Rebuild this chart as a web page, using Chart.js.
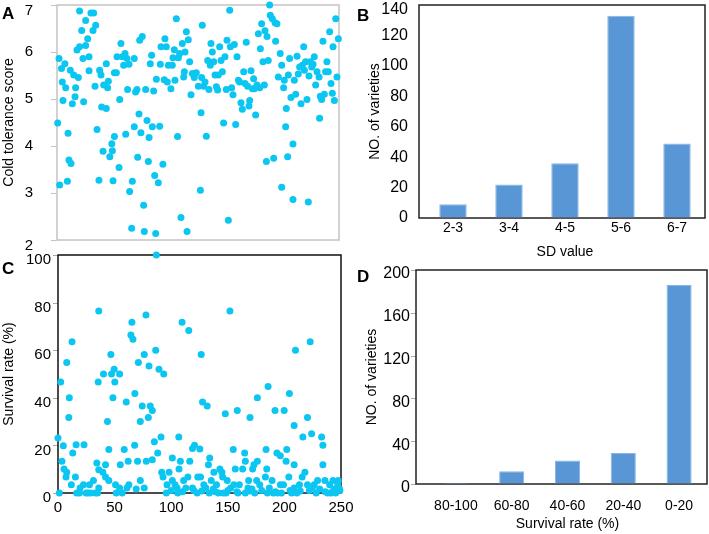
<!DOCTYPE html>
<html><head><meta charset="utf-8">
<script src="https://cdn.jsdelivr.net/npm/chart.js@4/dist/chart.umd.min.js"></script>
<style>
body{margin:0;background:#fff;width:709px;height:534px;position:relative;overflow:hidden;font-family:"Liberation Sans",Arial,sans-serif}
canvas{position:absolute}
.lbl{position:absolute;font-weight:bold;font-size:17px;line-height:17px;color:#000;font-family:"Liberation Sans",Arial,sans-serif}
</style></head><body>
<canvas id="cA" width="350" height="250" style="left:0;top:0"></canvas>
<canvas id="cB" width="349" height="265" style="left:360px;top:0"></canvas>
<canvas id="cC" width="360" height="289" style="left:0;top:245px"></canvas>
<canvas id="cD" width="349" height="272" style="left:360px;top:262px"></canvas>
<div class="lbl" style="left:2px;top:5px">A</div>
<div class="lbl" style="left:357px;top:7px">B</div>
<div class="lbl" style="left:2px;top:260px">C</div>
<div class="lbl" style="left:357px;top:268px">D</div>
<script>
// Panel A: cold tolerance score per variety
const aIndex = [0.6,2.4,1.8,4,7,4.7,7.7,5.3,9.8,9.2,
10.6,12.4,11.8,13.6,14.8,16.5,16,18.9,17.7,20,
20,21.9,23,23.6,25.4,25.4,27.2,28.4,28.4,30.1,
32.5,31.9,34.3,33.7,35.5,37.2,37.8,39,39.6,40.8,
41.4,43.7,43.7,45.5,44.9,46.8,48.6,49.1,50.9,49.7,
50.9,52.6,53.2,55.6,55,56.7,57.9,59.1,60.3,60.9,
62,62.6,63.8,64.4,66.2,66.8,68.5,68.5,69.7,70.9,
71.5,72.7,73.3,75.6,74.4,76.8,77.4,78.6,79.8,81,
81.6,82.7,83.9,84.5,85.7,86.6,87.5,88.1,89.8,91,
91.6,92.2,93.9,95.1,95.7,96.9,97.8,98.7,101,102.2,
102.8,104.6,104,105.8,106.9,107.6,108.7,109.9,111.1,112.3,
112.9,113.5,114.7,115.3,116.4,117.6,118.8,120,121.7,123.5,
125.3,127.1,127.7,128.2,128.8,130,131.2,132.4,133.6,134.7,
135.9,136.5,137.7,138.9,140.1,141.3,142.4,143,144.2,145.4,
146.6,147.7,148.9,150.1,150.7,151.9,153.1,153.7,154.8,156,
157.2,158.4,159.6,160.8,161.9,163.1,164.3,165.5,166.7,167.8,
169,170.2,170.8,172,173.2,174.3,174.9,176.1,177.3,178.5,
179.7,180.3,181.4,182.6,183.8,184.4,185.6,186.2,187.3,188.5,
189.1,190.9,192.1,193.3,193.8,195,196.2,197.9,199.2,199.2,
200.9,201.5,202.7,203.3,204.5,205.1,206.2,207.4,209.2,209.2,
210.4,211.6,212.8,213.9,215.1,216.3,217.5,218.7,219.3,220.4,
221.6,222.8,223.4,224.6,225.8,227,228.1,229.3,230.5,232.3,
232.8,233.4,234.6,235.8,237,238.1,239.3,240.5,241.7,242.9,
244.1,244.7,245.9,247.1,248.2,249.4];
const aScore = [4.49,3.17,5.86,5.65,5.75,5.36,5.24,4.97,4.27,3.25,
3.70,3.63,5.61,4.90,5.51,5.24,5.05,5.46,6.04,6.11,
6.87,6.46,5.86,4.94,6.67,6.14,6.28,5.60,5.90,6.83,
6.83,6.46,6.57,5.27,4.35,3.27,5.61,5.51,4.83,3.89,
5.30,4.80,5.75,5.38,5.24,3.77,4.05,3.90,4.20,3.26,
5.56,5.56,5.90,4.99,3.54,6.18,5.90,5.72,5.97,4.25,
5.86,5.20,5.74,3.03,2.25,3.25,5.86,4.41,5.15,5.20,
3.76,4.68,6.25,6.33,4.28,2.74,2.18,5.20,4.54,3.67,
4.18,5.75,5.93,4.41,5.17,3.37,2.14,5.42,3.22,4.42,
5.74,6.11,3.61,5.41,6.28,6.11,5.36,5.72,5.22,5.72,
5.88,5.40,6.05,6.71,4.20,5.88,5.97,2.48,6.18,5.47,
5.58,6.00,6.43,2.18,6.26,5.79,5.09,5.54,5.46,5.56,
5.27,3.06,4.71,5.46,6.57,5.27,5.36,4.21,5.82,5.20,
5.72,6.18,6.00,5.79,5.51,5.26,5.19,5.51,6.11,5.82,
5.58,4.49,5.90,5.20,6.25,2.42,6.89,6.11,5.24,5.09,
6.16,4.46,5.90,5.40,5.36,4.92,4.78,5.58,5.33,6.21,
5.27,4.85,4.97,5.60,5.22,5.43,5.22,4.66,5.30,6.39,
5.24,6.07,6.60,5.79,5.30,6.45,3.67,6.33,5.82,7.00,
6.78,6.71,3.74,6.62,6.23,6.60,5.47,5.97,3.12,5.72,
5.24,5.40,4.41,4.80,3.77,5.51,5.86,5.03,4.04,2.86,
5.40,5.10,5.91,5.53,5.68,4.90,5.72,6.11,5.61,5.79,
4.99,2.81,5.49,5.79,5.68,5.74,5.90,5.30,5.58,5.47,
4.59,5.06,4.99,6.23,5.10,5.58,5.79,5.58,6.43,5.33,
5.12,6.11,4.97,6.71,5.47,6.28];

// Panel C: survival rate per variety
const cIndex = [86.9,36,151.9,77.7,65.3,109.6,115.5,64.4,66.2,12.4,
222.8,86.3,209.8,46.7,76.2,126.5,7.7,71,80.4,89.2,
49.6,40.2,47.3,93.4,54.4,50.2,2.4,35.5,185.6,67.9,
204.4,10,48.5,176.1,60.3,127.7,74.4,81.5,131.8,83.3,
158.4,191.7,199.8,147.8,79.8,9.5,169.6,220.4,43.7,72.7,
208.6,216.3,232.9,0,91,106.7,224,85.1,4.7,16,
23,67.7,120.6,234,44.9,58.5,118.8,125.3,154.8,183.8,
202.1,88.1,164.9,193.4,13,196.4,101,134,3.5,62,
70.3,78,83.3,108.1,116.4,165.5,176.1,201.5,34.3,42,
55,132.9,208.6,234,173.1,5.3,106.9,156.6,163.1,171.9,
184.4,143,36,218.1,7.7,91.6,98.1,137.7,144.8,39.6,
7.1,15.4,42,92.8,114.7,123.5,125.9,145.4,183.2,203.9,
215.7,44.9,72.7,101,111,135.4,149.5,168.4,175.5,189.1,
235.8,247.6,242.9,11.8,31.3,22.5,27.8,50.8,62.6,96.3,
103.4,128.8,140,155.4,160.2,178.2,196.4,199.2,213.3,220.4,
226.3,229.3,240,247.1,19.5,36,54.4,60.9,76.2,69.1,
105.2,112.9,118.8,130.6,137.2,152.5,167.8,171.3,186.7,208.6,
224.6,231.1,248.8,244.1,
1.2,16.5,18.9,24.8,26.6,29,33.1,34.9,51.4,56.7,
95.7,105.8,122.9,133.6,141.8,146,148.4,159,165.5,173.8,
185,190.3,193.8,197.4,206.3,211,228.1,238.2,241.1,245.3,
100,110,120,127,139,150,158,170,180,192,205,214,222,236,243,249];
const cSurvival = [100,76.5,76.5,74.8,71.7,71.7,68.3,66.4,64.6,63.5,
63.5,60,60,58.2,58.2,58.2,54.8,54.8,53.4,52,
52,50,50,50,50,46.6,46.6,46.6,44.8,41.8,
41.8,40,40,40,38.2,38.2,36.6,36.6,36.6,34.7,
34.7,34.7,34.7,33.3,31.7,31.7,31.7,31.7,30,30,
28.4,23.5,23.5,23.1,23.5,23.5,24.9,21.5,19.9,20.3,
20.3,20.1,20.1,20.1,18.3,18.3,18.7,18.5,18.3,18.3,
18.3,16.8,16.8,16.8,16.8,15.7,14.7,14.7,13.3,13.3,
13.3,13.3,14,13.3,13.3,13.3,13.3,13.3,12.6,11.9,
11.9,11.9,11.9,11.9,11.9,10.1,10.1,10.1,10.1,10.1,
10.1,10.1,9.8,8.7,8.7,8.7,8.7,8.7,8.7,8.7,
6.7,6.7,6.7,6.7,6.7,6.7,6.7,6.7,6.7,6.7,
6.7,5.3,5.3,5.3,5.3,5.3,5.3,5.3,5.3,5.3,
5.3,5.3,5.3,3.5,5.3,3.5,3.5,3.5,3.5,3.5,
3.5,3.5,3.5,3.5,3.5,3.5,3.5,3.5,3.5,3.5,
3.5,5.3,3.5,3.5,2.1,2.1,2.1,2.1,2.1,1.7,
2.1,2.1,2.1,2.1,1.7,2.1,2.1,1.7,2.1,2.1,
2.1,1.7,1.7,1.7,
0,0,0,0,0,0,0,0,0,0,
0,0,0,0,0,0,0,0,0,0,
0,0,0,0,0,0,0,0,0,0,
1,0.5,1,0.8,0.5,1,0.5,0.8,1,0.5,1,0.8,1,0.5,0.8,1];

// Panel B: distribution of SD values
const bCategories = ['2-3','3-4','4-5','5-6','6-7'];
const bCounts = [9,22,36,133,49];
const bTicks = [0,20,40,60,80,100,120,140];

// Panel D: distribution of survival rate
const dCategories = ['80-100','60-80','40-60','20-40','0-20'];
const dCounts = [1,12,22,29,186];
const dTicks = [0,40,80,120,160,200];

const FONT = 'Liberation Sans';
const DOT = '#0cc6f2';
const BAR = '#5896d6';
Chart.defaults.font.family = FONT;
Chart.defaults.font.size = 14;
Chart.defaults.color = '#000';

// frame around the plot area plus short tick marks on its left side
const framePlugin = {
  id: 'frame',
  beforeDatasetsDraw(chart, args, opts) {
    const a = chart.chartArea, c = chart.ctx;
    const ext = opts.extendLeft || 0;
    const fl = a.left - ext;
    c.save();
    if (opts.tickLen) {
      c.strokeStyle = opts.tickColor;
      c.lineWidth = 1;
      const ys = chart.scales.y;
      ys.ticks.forEach(t => {
        const y = Math.round(ys.getPixelForValue(t.value)) + 0.5;
        c.beginPath(); c.moveTo(fl - opts.tickLen, y); c.lineTo(fl, y); c.stroke();
      });
    }
    c.strokeStyle = opts.color;
    c.lineWidth = opts.width;
    c.strokeRect(fl, a.top, a.right - fl, a.bottom - a.top);
    c.restore();
  }
};

function pts(xs, ys) { return xs.map((x, i) => ({x: x, y: ys[i]})); }

const common = {responsive: false, animation: false, devicePixelRatio: 1,
  plugins: {legend: {display: false}, tooltip: {enabled: false}}};

// y axis: labels sit `gap` px left of the plot; labels listed in `shifted` are nudged down
function yAxis(o) {
  const shifted = o.shifted || [];
  const isShift = v => shifted.indexOf(v) >= 0;
  const ax = {
    min: o.min, max: o.max,
    ticks: {stepSize: o.step, padding: o.pad || 0, labelOffset: o.labelOffset || 0,
      callback: v => isShift(v) ? ['', String(v)] : String(v),
      font: ctx => ({size: o.size, lineHeight: (ctx.tick && isShift(ctx.tick.value)) ? (o.shiftLH / o.size) : 0.1})},
    grid: {display: true, drawOnChartArea: false, drawTicks: true, tickLength: o.gap, tickColor: 'rgba(0,0,0,0)'},
    border: {display: false},
    title: {display: true, text: o.title, font: {size: 14}, padding: {top: o.titlePad, bottom: 0}},
    afterFit(s) { s.width = o.width; }
  };
  if (o.fixedTicks) ax.afterBuildTicks = s => { s.ticks = o.fixedTicks.map(v => ({value: v})); };
  return ax;
}

new Chart(document.getElementById('cA'), {
  type: 'scatter',
  data: {datasets: [{data: pts(aIndex, aScore), backgroundColor: DOT, borderWidth: 0, pointRadius: 3.5, clip: false}]},
  options: Object.assign({}, common, {
    layout: {padding: {top: 5, right: 11, bottom: 10, left: 0}},
    plugins: Object.assign({}, common.plugins, {frame: {color: '#c4c4c4', width: 1.5, tickLen: 6, tickColor: '#c4c4c4'}}),
    scales: {
      x: {type: 'linear', min: 0, max: 250, display: false},
      y: yAxis({min: 2, max: 7, step: 1, size: 15, gap: 30, pad: -6, shifted: [7, 2], shiftLH: 11,
        title: 'Cold tolerance score', titlePad: 1, width: 57})
    }
  }),
  plugins: [framePlugin]
});

new Chart(document.getElementById('cC'), {
  type: 'scatter',
  data: {datasets: [{data: pts(cIndex, cSurvival), backgroundColor: DOT, borderWidth: 0, pointRadius: 3.5, clip: false}]},
  options: Object.assign({}, common, {
    layout: {padding: {top: 10, right: 19, bottom: 0, left: 0}},
    plugins: Object.assign({}, common.plugins, {frame: {color: '#111', width: 1.5, tickLen: 5, tickColor: '#aaa'}}),
    scales: {
      x: {type: 'linear', min: 0, max: 250,
        ticks: {stepSize: 50, padding: 6, font: {size: 15}},
        grid: {display: false, drawTicks: false},
        border: {display: false},
        afterFit(s) { s.height = 41; }},
      y: yAxis({min: 0, max: 100, step: 20, size: 15, gap: 7, labelOffset: 5,
        title: 'Survival rate (%)', titlePad: 1, width: 58})
    }
  }),
  plugins: [framePlugin]
});

function barChart(id, cats, counts, o) {
  return new Chart(document.getElementById(id), {
    type: 'bar',
    data: {labels: cats, datasets: [{data: counts, backgroundColor: BAR, borderColor: '#86b6e6', borderWidth: 1,
      barPercentage: o.barPct, categoryPercentage: 1}]},
    options: Object.assign({}, common, {
      layout: {padding: {top: o.top, right: o.right, bottom: 0, left: 0}},
      plugins: Object.assign({}, common.plugins, {frame: {color: '#222', width: 1.5, extendLeft: o.ext, tickLen: o.tickLen, tickColor: '#aaa'}}),
      scales: {
        x: {grid: {display: false, drawTicks: false}, border: {display: false},
          ticks: {padding: o.xPad},
          title: {display: true, text: o.xTitle, padding: {top: 0, bottom: o.xTitlePad}},
          afterFit(s) { s.height = o.xH; }},
        y: yAxis(o.y)
      }
    }),
    plugins: [framePlugin]
  });
}

barChart('cB', bCategories, bCounts,
  {barPct: 0.49, top: 5, right: 4, ext: 6, tickLen: 0, xPad: 2, xTitle: 'SD value', xTitlePad: 4, xH: 47,
   y: {min: 0, max: bTicks[bTicks.length - 1], fixedTicks: bTicks, size: 16, gap: 21, pad: -4, shifted: [140], shiftLH: 9,
       title: 'NO. of varieties', titlePad: 7, width: 65}});
barChart('cD', dCategories, dCounts,
  {barPct: 0.45, top: 8, right: 2, ext: 12, tickLen: 5, xPad: 14, xTitle: 'Survival rate (%)', xTitlePad: 1, xH: 50,
   y: {min: 0, max: dTicks[dTicks.length - 1], fixedTicks: dTicks, size: 16, gap: 18, labelOffset: 4,
       title: 'NO. of varieties', titlePad: 4, width: 68}});
</script>
</body></html>
